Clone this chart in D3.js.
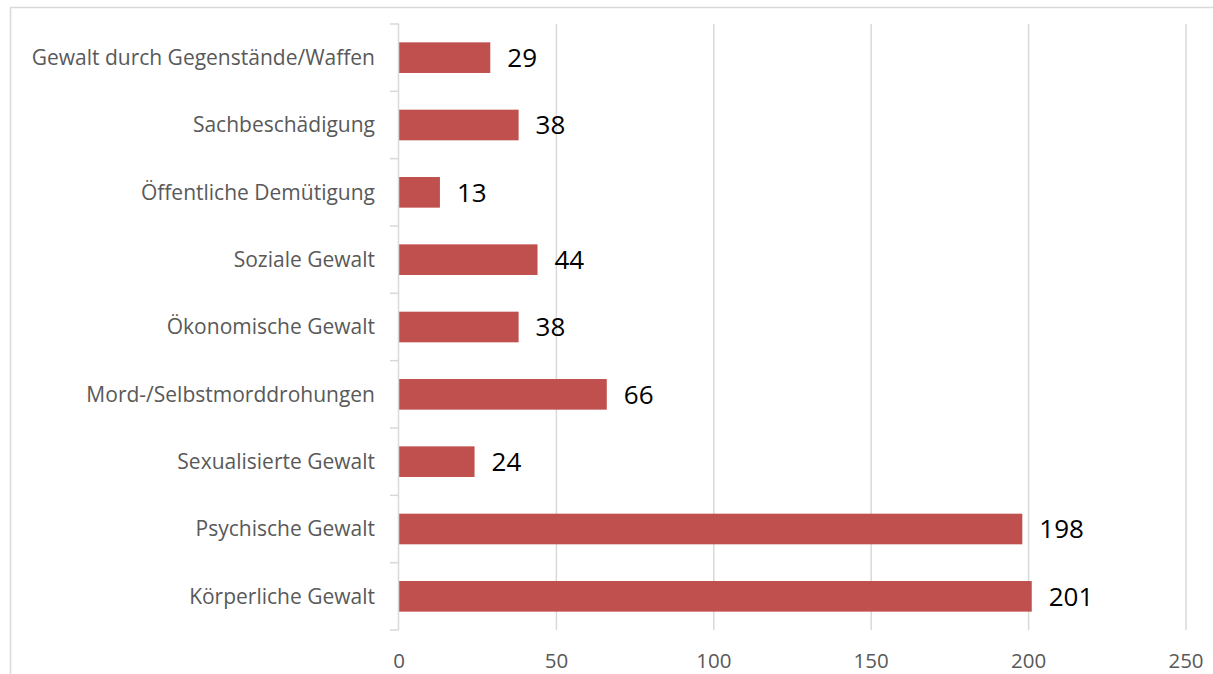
<!DOCTYPE html>
<html>
<head>
<meta charset="utf-8">
<script src="https://cdn.jsdelivr.net/npm/d3@7"></script>
<style>
  html, body { margin: 0; padding: 0; background: #fff; }
  svg { display: block; }
</style>
</head>
<body>
<svg id="chart" width="1213" height="674"></svg>
<script>
// Categories listed top to bottom, with their counts
const categories = [
  "Gewalt durch Gegenstände/Waffen",
  "Sachbeschädigung",
  "Öffentliche Demütigung",
  "Soziale Gewalt",
  "Ökonomische Gewalt",
  "Mord-/Selbstmorddrohungen",
  "Sexualisierte Gewalt",
  "Psychische Gewalt",
  "Körperliche Gewalt"
];
const counts = [29, 38, 13, 44, 38, 66, 24, 198, 201];
const xTicks = [0, 50, 100, 150, 200, 250];

const svg = d3.select("#chart");
const W = 1213, H = 674;
const plot = { left: 399, right: 1186, top: 24, bottom: 630 };
const font = "'Open Sans', 'Liberation Sans', sans-serif";
const grey = "#D9D9D9";

// Outer chart frame (extends past the bottom/right of the view)
svg.append("rect")
  .attr("x", 10.5).attr("y", 7.5)
  .attr("width", W + 20).attr("height", H + 20)
  .attr("fill", "none").attr("stroke", grey).attr("stroke-width", 1.5);

const x = d3.scaleLinear().domain([0, 250]).range([plot.left, plot.right]);
const y = d3.scaleBand().domain(categories).range([plot.top, plot.bottom]).paddingInner(0.545).paddingOuter(0.2725);

// Vertical gridlines
svg.append("g").selectAll("line")
  .data(xTicks.filter(d => d > 0))
  .join("line")
  .attr("x1", d => x(d)).attr("x2", d => x(d))
  .attr("y1", plot.top).attr("y2", plot.bottom)
  .attr("stroke", grey).attr("stroke-width", 1.5);

// Bars
svg.append("g").selectAll("rect")
  .data(counts)
  .join("rect")
  .attr("x", x(0))
  .attr("y", (d, i) => y(categories[i]))
  .attr("width", d => x(d) - x(0))
  .attr("height", y.bandwidth())
  .attr("fill", "#C0504D");

// Category axis with tick marks between categories
const yAxis = svg.append("g");
yAxis.append("line")
  .attr("x1", plot.left - 0.5).attr("x2", plot.left - 0.5)
  .attr("y1", plot.top).attr("y2", plot.bottom)
  .attr("stroke", grey).attr("stroke-width", 1.5);
const step = (plot.bottom - plot.top) / categories.length;
yAxis.selectAll("line.tick")
  .data(d3.range(categories.length + 1))
  .join("line")
  .attr("class", "tick")
  .attr("x1", plot.left - 9).attr("x2", plot.left)
  .attr("y1", i => plot.top + i * step).attr("y2", i => plot.top + i * step)
  .attr("stroke", grey).attr("stroke-width", 1.5);

yAxis.selectAll("text")
  .data(categories)
  .join("text")
  .attr("x", plot.left - 24)
  .attr("y", d => y(d) + y.bandwidth() / 2)
  .attr("dy", "0.35em")
  .attr("text-anchor", "end")
  .attr("font-family", font)
  .attr("font-size", 21)
  .attr("fill", "#595959")
  .text(d => d);

// Value axis labels
svg.append("g").selectAll("text")
  .data(xTicks)
  .join("text")
  .attr("x", d => x(d))
  .attr("y", 661)
  .attr("dy", "0.35em")
  .attr("text-anchor", "middle")
  .attr("font-family", font)
  .attr("font-size", 20.5)
  .attr("fill", "#595959")
  .text(d => d);

// Value labels next to the bars
svg.append("g").selectAll("text")
  .data(counts)
  .join("text")
  .attr("x", d => x(d) + 17)
  .attr("y", (d, i) => y(categories[i]) + y.bandwidth() / 2)
  .attr("dy", "0.36em")
  .attr("font-family", font)
  .attr("font-size", 26)
  .attr("fill", "#000")
  .text(d => d);
</script>
</body>
</html>
